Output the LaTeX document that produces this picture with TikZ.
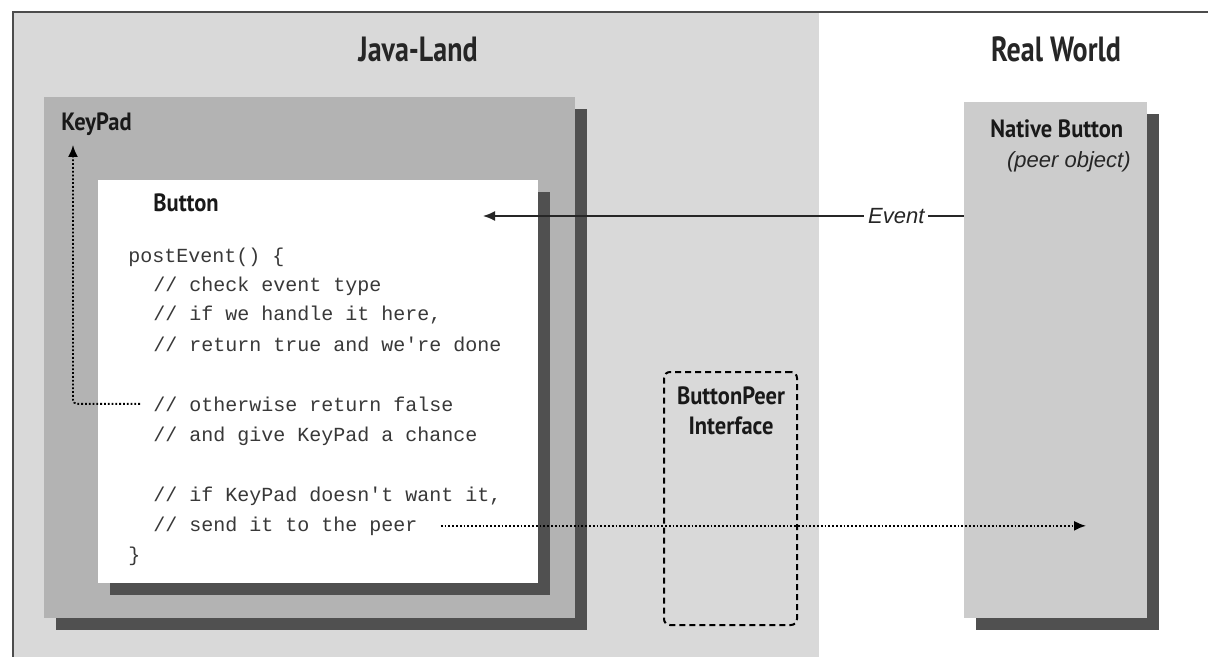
\documentclass[tikz,border=0pt]{standalone}
\usepackage{fontspec}
\setmainfont{Liberation Sans}
\newfontfamily\headfont[FakeStretch=0.8]{PT Sans}
\newfontfamily\labelfont[FakeStretch=0.9]{PT Sans}
\newfontfamily\codefont{Liberation Mono}
\usepackage{tikz}
\usetikzlibrary{arrows.meta,shadows}
\definecolor{javagray}{HTML}{D9D9D9}
\definecolor{keygray}{HTML}{B3B3B3}
\definecolor{nativegray}{HTML}{CCCCCC}
\definecolor{shadowgray}{HTML}{505050}
\tikzset{
  font={\fontsize{11pt}{13pt}\selectfont},
  title/.style={font={\headfont\bfseries\fontsize{17.5pt}{20pt}\selectfont}, text=black!85},
  boxlabel/.style={font={\labelfont\bfseries\fontsize{12.5pt}{15pt}\selectfont}, text=black!90},
  code/.style={font={\codefont\fontsize{10pt}{15pt}\selectfont}, text=black!78, anchor=base west},
  shade/.style={drop shadow={shadow xshift=6pt, shadow yshift=-6pt, fill=shadowgray, opacity=1}},
  dotarrow/.style={densely dotted, line width=0.9pt, -{Latex[length=6pt,width=5pt]}},
  evtarrow/.style={line width=0.8pt, black!85, -{Latex[length=6pt,width=5pt]}}}

\begin{document}
\begin{tikzpicture}[x=0.5pt,y=-0.5pt]
\tikzstyle{every node}+=[inner sep=0pt]
\useasboundingbox (0,0) rectangle (1208,657);
\fill [javagray] (13,12) rectangle (819,657);
\draw [line width=1pt, black!70] (13,657) -- (13,12) -- (1208,12);
\node [title, anchor=base] (java) at (418,62) {Java-Land};
\node [title, anchor=base] (real) at (1056,62) {Real World};
\node [shade, fill=keygray, minimum width=265.5pt, minimum height=260.5pt] (keypad) at (309.5,357.5) {};
\node [boxlabel, anchor=base west] (keylbl) at (61,131) {KeyPad};
\node [shade, fill=white, minimum width=220pt, minimum height=201.5pt] (button) at (318,381.5) {};
\node [boxlabel, anchor=base west] (btnlbl) at (153,212) {Button};
\node [shade, fill=nativegray, minimum width=91.5pt, minimum height=258pt] (native) at (1055.5,360) {};
\node [boxlabel, anchor=base west] (natlbl) at (990,138) {Native Button};
\node [anchor=base east, font={\itshape\fontsize{11pt}{13pt}\selectfont}, text=black!85] (peerobj) at (1131,168) {(peer object)};
\node [draw, dashed, dash pattern=on 3pt off 2pt, line width=1pt, rounded corners=3pt, minimum width=66.5pt, minimum height=126.5pt] (peer) at (730.5,498.5) {};
\node [boxlabel, align=center, anchor=north] (peerlbl) at (731,386) {ButtonPeer\\Interface};
\node [code] (l1) at (128,263) {postEvent() \{};
\node [code] (l2) at (153,292) {// check event type};
\node [code] (l3) at (153,321) {// if we handle it here,};
\node [code] (l4) at (153,351) {// return true and we're done};
\node [code] (l5) at (153,411) {// otherwise return false};
\node [code] (l6) at (153,441) {// and give KeyPad a chance};
\node [code] (l7) at (153,501) {// if KeyPad doesn't want it,};
\node [code] (l8) at (153,531) {// send it to the peer};
\node [code] (l9) at (128,561) {\}};
\coordinate (evtip) at (483,216);
\coordinate (kpup) at (73,145);
\coordinate (peerin) at (1086,0);
\draw [evtarrow] (native.west |- evtip) -- node [pos=0.14, fill=white, inner sep=2pt, font={\itshape\fontsize{11pt}{13pt}\selectfont}] (evt) {Event} (evtip);
\draw [dotarrow, rounded corners=2pt, shorten <=6.5pt] (l5.west) -| (kpup);
\draw [dotarrow, shorten <=11.5pt] (l8.east) -- (l8.east -| peerin);
\end{tikzpicture}
\end{document}
